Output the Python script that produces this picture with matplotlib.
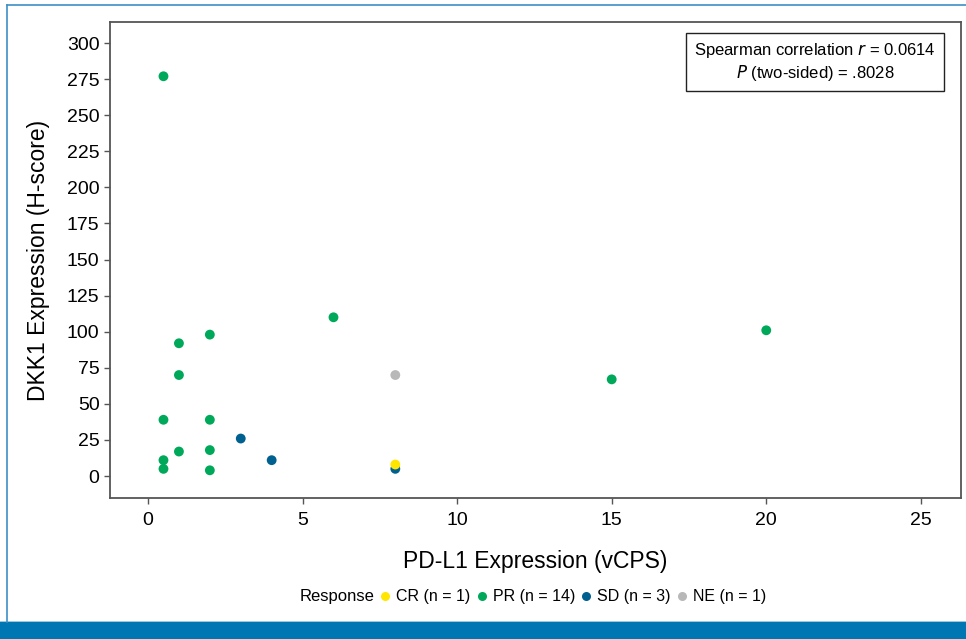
import matplotlib
matplotlib.use("Agg")
import matplotlib.pyplot as plt
from matplotlib.lines import Line2D
from matplotlib.patches import Rectangle

plt.rcParams['font.family'] = ['Liberation Sans', 'DejaVu Sans']

# Data
cr_x = [8]
cr_y = [8]
pr_x = [0.5, 1, 2, 6, 1, 0.5, 2, 1, 2, 0.5, 0.5, 2, 15, 20]
pr_y = [277, 92, 98, 110, 70, 39, 39, 17, 18, 11, 5, 4, 67, 101]
sd_x = [3, 4, 8]
sd_y = [26, 11, 5]
ne_x = [8]
ne_y = [70]

groups = [
    ("CR (n = 1)", cr_x, cr_y, "#FFE600"),
    ("PR (n = 14)", pr_x, pr_y, "#00A85A"),
    ("SD (n = 3)", sd_x, sd_y, "#00608F"),
    ("NE (n = 1)", ne_x, ne_y, "#B8B8B8"),
]
draw_order = [1, 2, 3, 0]

xticks = [0, 5, 10, 15, 20, 25]
yticks = [0, 25, 50, 75, 100, 125, 150, 175, 200, 225, 250, 275, 300]

fig = plt.figure(figsize=(9.66, 6.39), dpi=100)
ax = fig.add_axes([110/966, (639-498)/639, (961-110)/966, (498-22)/639])

for i in draw_order:
    lab, xs, ys, c = groups[i]
    ax.scatter(xs, ys, s=50, color=c, edgecolors='none', zorder=3)

ax.set_xlim(-1.23, 26.3)
ax.set_ylim(-15.2, 314.6)
ax.set_xticks(xticks)
ax.set_yticks(yticks)
ax.tick_params(axis='both', labelsize=14, color='#555555', length=4, width=1, direction='out')
ax.tick_params(axis='x', pad=6)
for s in ax.spines.values():
    s.set_color('#555555')
    s.set_linewidth(1.3)

ax.set_xlabel("PD-L1 Expression (vCPS)", fontsize=16.5, labelpad=15)
ax.set_ylabel("DKK1 Expression (H-score)", fontsize=16.5, labelpad=12)

ax.text((815-110)/851, (498-62)/476,
        "Spearman correlation $\\it{r}$ = 0.0614\n$\\it{P}$ (two-sided) = .8028",
        transform=ax.transAxes, ha='center', va='center', fontsize=12,
        linespacing=1.15,
        bbox=dict(boxstyle='square,pad=0.5', facecolor='white', edgecolor='#222222', linewidth=1))

# Legend
fig.text(300/966, 1 - 597/639, "Response", fontsize=12, ha='left', va='center')
handles = [Line2D([], [], marker='o', linestyle='none', markersize=6.5,
                  markerfacecolor=g[3], markeredgecolor='none') for g in groups]
labels = [g[0] for g in groups]
fig.legend(handles, labels, loc='center left', bbox_to_anchor=(379/966, 1 - 597/639),
           ncol=4, frameon=False, fontsize=11.5, handlelength=0.8, handletextpad=0.29,
           columnspacing=0.29, borderaxespad=0, borderpad=0)

# Frame decorations
fig.patches.append(Rectangle((0, 0), 1, 17/639, transform=fig.transFigure,
                             facecolor='#0077B3', edgecolor='none', zorder=0))
fig.patches.append(Rectangle((0, 17/639), 1, 1.5/639, transform=fig.transFigure,
                             facecolor='#9CC8E0', edgecolor='none', zorder=0))
fig.add_artist(Line2D([7/966, 1], [1 - 5/639, 1 - 5/639], transform=fig.transFigure,
                      color='#3D8FC6', linewidth=1.2))
fig.add_artist(Line2D([7/966, 7/966], [17/639, 1 - 5/639], transform=fig.transFigure,
                      color='#3D8FC6', linewidth=1.2))

fig.savefig("out.png", dpi=100)
